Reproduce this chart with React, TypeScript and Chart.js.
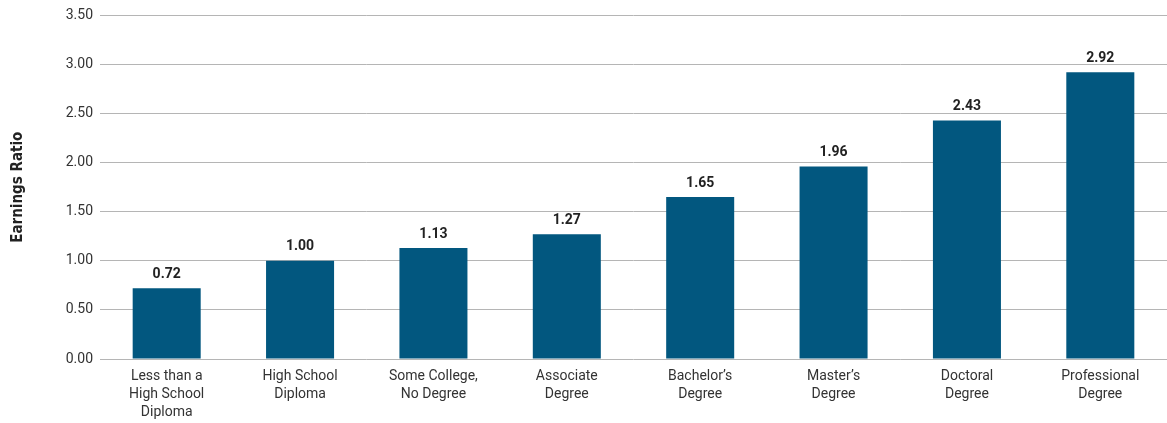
import React, { useEffect, useRef } from "react";
import { Chart, registerables } from "chart.js";

Chart.register(...registerables);

const categories: string[][] = [
  ["Less than a", "High School", "Diploma"],
  ["High School", "Diploma"],
  ["Some College,", "No Degree"],
  ["Associate", "Degree"],
  ["Bachelor\u2019s", "Degree"],
  ["Master\u2019s", "Degree"],
  ["Doctoral", "Degree"],
  ["Professional", "Degree"],
];

const earningsRatio: number[] = [0.72, 1.0, 1.13, 1.27, 1.65, 1.96, 2.43, 2.92];

const yMin = 0;
const yMax = 3.5;
const yStep = 0.5;

const BAR_COLOR = "#02577F";
const TEXT_COLOR = "#333333";
const GRID_COLOR = "#B5B5B5";
const FONT = "Roboto, 'Liberation Sans', sans-serif";

// Draws each bar's value centred above it
const valueLabels = {
  id: "valueLabels",
  afterDatasetsDraw(chart: any) {
    const { ctx } = chart;
    const meta = chart.getDatasetMeta(0);
    ctx.save();
    ctx.font = `bold 14px ${FONT}`;
    ctx.fillStyle = "#222222";
    ctx.textAlign = "center";
    ctx.textBaseline = "bottom";
    meta.data.forEach((bar: any, i: number) => {
      const v = chart.data.datasets[0].data[i] as number;
      ctx.fillText(v.toFixed(2), bar.x, bar.y - 7);
    });
    ctx.restore();
  },
};

export default function App() {
  const canvasRef = useRef<HTMLCanvasElement | null>(null);

  useEffect(() => {
    if (!canvasRef.current) return;
    const chart = new Chart(canvasRef.current, {
      type: "bar",
      data: {
        labels: categories,
        datasets: [
          {
            data: earningsRatio,
            backgroundColor: BAR_COLOR,
            categoryPercentage: 1,
            barPercentage: 0.51,
          },
        ],
      },
      options: {
        animation: false,
        responsive: true,
        maintainAspectRatio: false,
        layout: { padding: { top: 10, right: 0, bottom: 0, left: 0 } },
        plugins: {
          legend: { display: false },
          tooltip: { enabled: false },
        },
        scales: {
          x: {
            afterFit: (scale: any) => {
              scale.height = 64;
            },
            grid: { display: false, drawTicks: false },
            border: { display: false },
            ticks: {
              color: TEXT_COLOR,
              font: { family: FONT, size: 14, lineHeight: 1.3 },
              padding: 8,
              maxRotation: 0,
              autoSkip: false,
            },
          },
          y: {
            min: yMin,
            max: yMax,
            afterFit: (scale: any) => {
              scale.width = 100;
            },
            grid: { color: GRID_COLOR, drawTicks: false, lineWidth: 1 },
            border: { display: false },
            ticks: {
              stepSize: yStep,
              color: TEXT_COLOR,
              font: { family: FONT, size: 14 },
              padding: 7,
              callback: (v: any) => Number(v).toFixed(2),
            },
            title: {
              display: true,
              text: "Earnings Ratio",
              color: "#222222",
              font: { family: "'DejaVu Sans Condensed', sans-serif", size: 15, weight: "bold" },
              padding: { top: 9, bottom: 0 },
            },
          },
        },
      },
      plugins: [valueLabels],
    });
    return () => chart.destroy();
  }, []);

  return (
    <div style={{ position: "fixed", left: 0, top: 0, width: 1167, height: 423, background: "#fff" }}>
      <canvas ref={canvasRef} />
    </div>
  );
}
